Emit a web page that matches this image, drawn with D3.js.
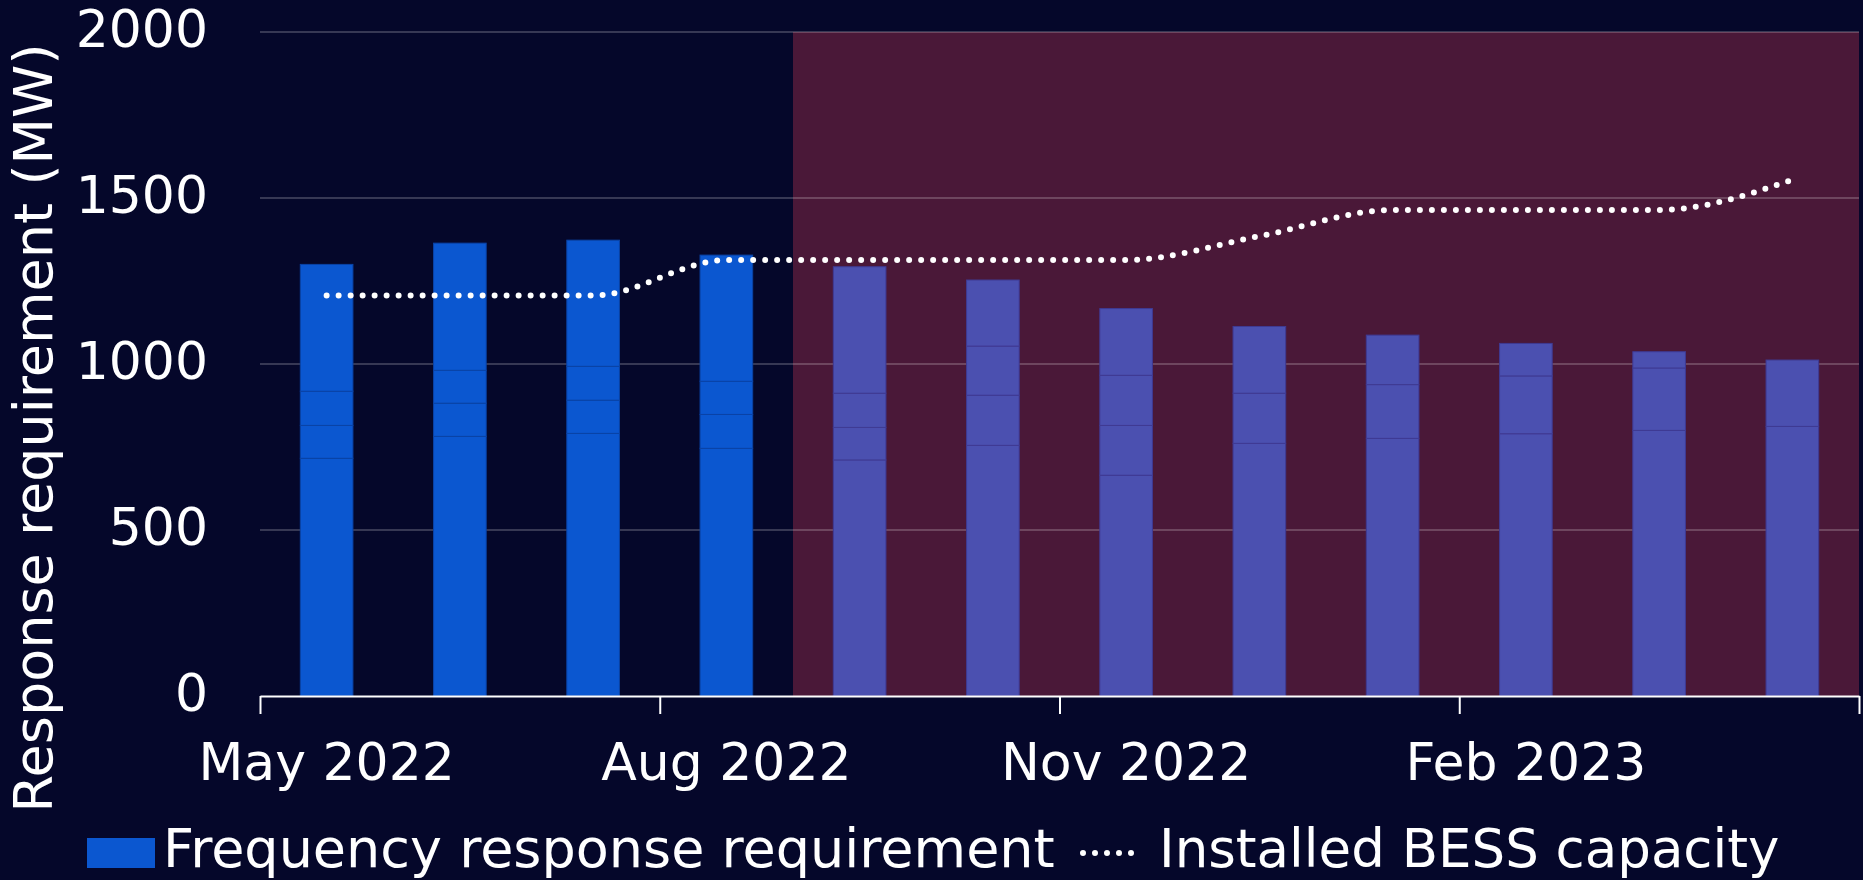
<!DOCTYPE html>
<html>
<head>
<meta charset="utf-8">
<title>Frequency response requirement vs BESS capacity</title>
<script src="https://d3js.org/d3.v7.min.js"></script>
<style>
  body { margin: 0; background: #05072a; }
  text { font-family: "DejaVu Sans", sans-serif; fill: #ffffff; }
</style>
</head>
<body>
<svg width="1863" height="880"></svg>

<script>
// month categories
var months = ["May 2022", "Jun 2022", "Jul 2022", "Aug 2022", "Sep 2022", "Oct 2022",
              "Nov 2022", "Dec 2022", "Jan 2023", "Feb 2023", "Mar 2023", "Apr 2023"];

// stacked parts of the requirement (MW), bottom to top
var partA = [716, 782, 791, 746, 711, 755, 665, 761, 776, 790, 800, 812];
var partB = [99, 100, 100, 102, 98, 151, 150, 151, 162, 174, 188, 200];
var partC = [103, 99, 102, 100, 103, 148, 151, 0, 149, 98, 49, 0];
var partD = [382, 383, 380, 380, 381, 199, 201, 201, 0, 0, 0, 0];

// installed battery storage (MW)
var bess = [1206, 1206, 1206, 1313, 1313, 1313, 1313, 1385, 1464, 1464, 1464, 1555];

// forecast period starts here
var forecastStart = "Sep 2022";

var yTicks = [0, 500, 1000, 1500, 2000];
var xTickLabels = ["May 2022", "Aug 2022", "Nov 2022", "Feb 2023"];

var svg = d3.select("svg");
var margin = {left: 260, right: 4, top: 32, bottom: 184};
var W = +svg.attr("width"), H = +svg.attr("height");

svg.append("rect").attr("width", W).attr("height", H).attr("fill", "#05072a");

var x = d3.scaleBand().domain(months).range([margin.left, W - margin.right]).padding(0);
var xi = d3.scaleLinear().domain([0, months.length]).range([margin.left, W - margin.right]);
var y = d3.scaleLinear().domain([0, 2000]).range([H - margin.bottom, margin.top]);

var barW = x.bandwidth() * 0.395;

// forecast shading
svg.append("rect")
    .attr("x", x(forecastStart))
    .attr("y", y(2000))
    .attr("width", x.range()[1] - x(forecastStart))
    .attr("height", y(0) - y(2000))
    .attr("fill", "#4a1838");

// gridlines
svg.append("g").selectAll("line")
    .data(yTicks.filter(function(d) { return d > 0; }))
    .enter().append("line")
      .attr("x1", x.range()[0]).attr("x2", x.range()[1])
      .attr("y1", function(d) { return y(d); })
      .attr("y2", function(d) { return y(d); })
      .attr("stroke", "rgba(255,255,255,0.2)")
      .attr("stroke-width", 2);

// y labels
svg.append("g").selectAll("text")
    .data(yTicks)
    .enter().append("text")
      .attr("x", 208)
      .attr("y", function(d) { return y(d) + 14.5; })
      .attr("text-anchor", "end")
      .style("font-size", "52px")
      .text(function(d) { return d; });

// stacked bars
var rows = months.map(function(m, i) {
  return {month: m, a: partA[i], b: partB[i], c: partC[i], d: partD[i]};
});
var stack = d3.stack().keys(["a", "b", "c", "d"]);
var series = stack(rows);

var isForecast = function(m) { return months.indexOf(m) >= months.indexOf(forecastStart); };

svg.append("g").selectAll("g")
    .data(series)
    .enter().append("g")
    .selectAll("rect")
    .data(function(s) { return s.filter(function(p) { return p[1] > p[0]; }); })
    .enter().append("rect")
      .attr("x", function(p) { return x(p.data.month) + (x.bandwidth() - barW) / 2; })
      .attr("y", function(p) { return y(p[1]); })
      .attr("width", barW)
      .attr("height", function(p) { return y(p[0]) - y(p[1]); })
      .attr("fill", function(p) { return isForecast(p.data.month) ? "#4b50b0" : "#0b57d0"; })
      .attr("stroke", function(p) { return isForecast(p.data.month) ? "#3f3a93" : "#0a43a6"; })
      .attr("stroke-width", 1);

// BESS line, dotted
var line = d3.line()
    .x(function(d, i) { return x(months[i]) + x.bandwidth() / 2; })
    .y(function(d) { return y(d); })
    .curve(d3.curveMonotoneX);

svg.append("path")
    .datum(bess)
    .attr("d", line)
    .attr("fill", "none")
    .attr("stroke", "#ffffff")
    .attr("stroke-width", 6)
    .attr("stroke-linecap", "round")
    .attr("stroke-dasharray", "0 12");

// x axis
var xAxis = d3.axisBottom(xi)
    .tickValues([0, 3, 6, 9, 12])
    .tickSize(18)
    .tickSizeOuter(0)
    .tickFormat("");

var gx = svg.append("g")
    .attr("transform", "translate(0," + y(0) + ")")
    .call(xAxis);
gx.selectAll("path, line").attr("stroke", "#ffffff").attr("stroke-width", 2);

svg.append("g").selectAll("text")
    .data(xTickLabels)
    .enter().append("text")
      .attr("x", function(d) { return x(d) + x.bandwidth() / 2; })
      .attr("y", y(0) + 84)
      .attr("text-anchor", "middle")
      .style("font-size", "52px")
      .text(function(d) { return d; });

// y title
svg.append("text")
    .attr("transform", "translate(52,428) rotate(-90)")
    .attr("text-anchor", "middle")
    .style("font-size", "54px")
    .text("Response requirement (MW)");

// legend
var legend = svg.append("g");
legend.append("rect")
    .attr("x", 87).attr("y", 838).attr("width", 68).attr("height", 30)
    .attr("fill", "#0b57d0");
legend.append("text")
    .attr("x", 163).attr("y", 867)
    .style("font-size", "54px")
    .text("Frequency response requirement");
legend.append("line")
    .attr("x1", 1083).attr("x2", 1143).attr("y1", 853).attr("y2", 853)
    .attr("stroke", "#ffffff")
    .attr("stroke-width", 6)
    .attr("stroke-linecap", "round")
    .attr("stroke-dasharray", "0 12");
legend.append("text")
    .attr("x", 1159).attr("y", 867)
    .style("font-size", "53px")
    .text("Installed BESS capacity");
</script>
</body>
</html>
